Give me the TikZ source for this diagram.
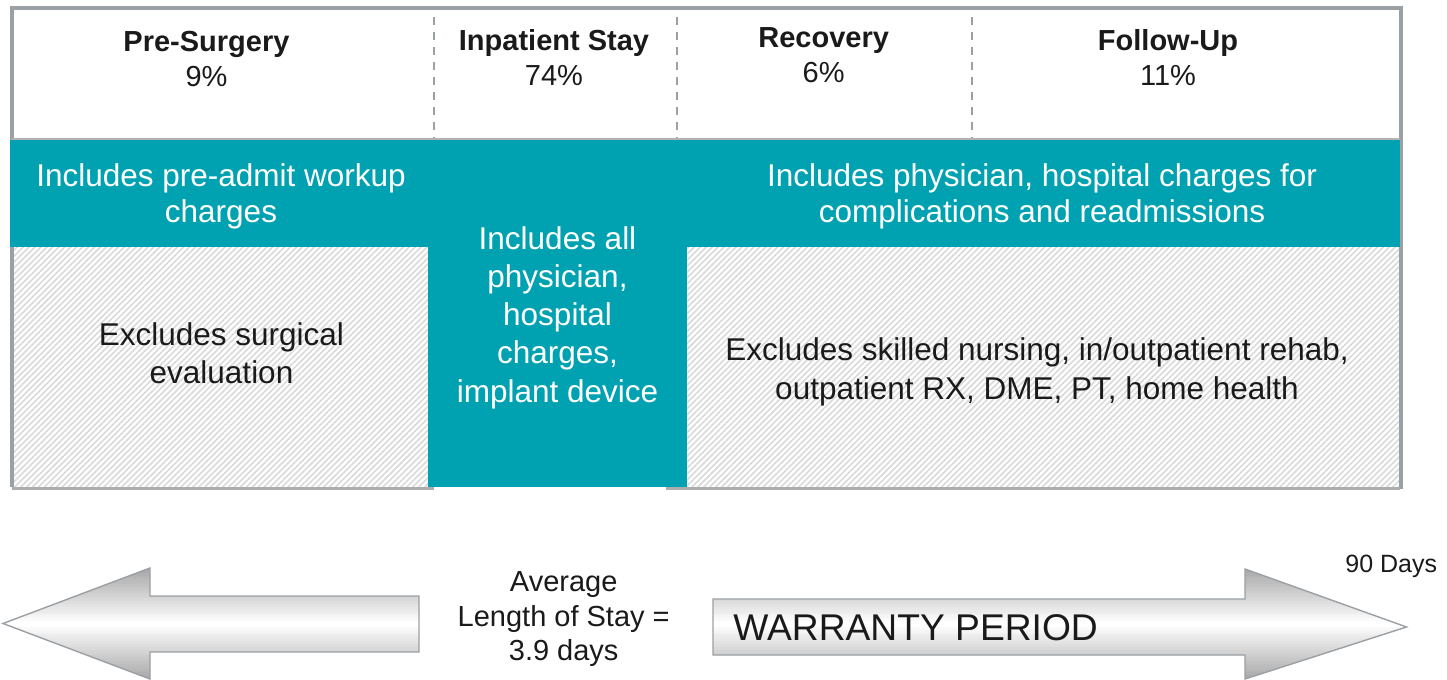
\documentclass[tikz,border=0pt]{standalone}
\usepackage{fontspec}
\setmainfont{Liberation Sans}
\usetikzlibrary{patterns.meta}
\definecolor{tealband}{HTML}{00A2B1}
\definecolor{framegray}{HTML}{9BA0A5}
\definecolor{hatchgray}{HTML}{D9D9D9}
\definecolor{inkgray}{HTML}{1A1A1A}
% big timeline arrow, shaded white in the middle, gray at the edges
\newcommand{\shadedarrow}[1]{%
    \begin{scope}
        \clip #1;
        \foreach \i in {0,...,39} {
            \pgfmathtruncatemacro{\dk}{36*abs(1-2*(\i+0.5)/40)}
            \fill[black!\dk] (0,567+2.85*\i) rectangle (1447,567+2.85*\i+3.3);
        }
    \end{scope}
    \draw[framegray, line width=0.7pt] #1;}
\begin{document}
\begin{tikzpicture}[x=0.5pt, y=-0.5pt,
        head/.style={text=inkgray, align=center, font=\fontsize{14.5}{17.5}\selectfont},
        incl/.style={text=white, align=center, font=\fontsize{15.75}{18}\selectfont},
        excl/.style={text=inkgray, align=center, font=\fontsize{15.75}{19.15}\selectfont},
        hatch/.style={pattern={Lines[angle=45, distance=2.1pt, line width=0.8pt]}, pattern color=hatchgray}]
        \useasboundingbox (0,0) rectangle (1447,680);

        % excluded parts
        \fill[hatch] (12,247) rectangle (428,487);
        \fill[hatch] (687,247) rectangle (1400,487);

        % frame
        \draw[framegray, line width=2pt] (12,487) -- (12,8) -- (1401,8) -- (1401,489);
        \draw[black!32, line width=1.5pt] (12,488.5) -- (434,488.5);
        \draw[black!32, line width=1.5pt] (666,488.5) -- (1400,488.5);

        % included parts
        \fill[tealband] (10,140) rectangle (1400,247);
        \fill[tealband] (428,140) rectangle (687,487);
        \draw[black!30, line width=1pt] (12,139) -- (1400,139);
        \foreach \x in {434,677,972}
            \draw[framegray, line width=0.65pt, dash pattern=on 4pt off 3.5pt] (\x,17) -- (\x,138);

        % phases
        \node[name=pre, head] at (206.5,59.2) {\textbf{Pre-Surgery}\\9\%};
        \node[name=inpatient, head] at (554,57.3) {\textbf{Inpatient Stay}\\74\%};
        \node[name=recovery, head] at (823.7,55) {\textbf{Recovery}\\6\%};
        \node[name=followup, head] at (1168,58) {\textbf{Follow-Up}\\11\%};

        \node[name=preincl, incl] at (221,196.7) {Includes pre-admit workup\\charges};
        \node[name=postincl, incl] at (1042,196.7) {Includes physician, hospital charges for\\complications and readmissions};
        \node[name=stayincl, incl, font=\fontsize{15.75}{19.1}\selectfont] at (557.5,317.5) {Includes all\\physician,\\hospital\\charges,\\implant device};
        \node[name=preexcl, excl] at (221.5,352.9) {Excludes surgical\\evaluation};
        \node[name=postexcl, excl] at (1037,371.9) {Excludes skilled nursing, in/outpatient rehab,\\outpatient RX, DME, PT, home health};

        % timeline
        \shadedarrow{(419,596) -- (150,596) -- (150,568) -- (3,623.5) -- (150,679) -- (150,652) -- (419,652) -- cycle}
        \shadedarrow{(713,599) -- (1245,599) -- (1245,569) -- (1406.5,627) -- (1245,679) -- (1245,655) -- (713,655) -- cycle}
        \node[name=los, text=inkgray, align=center, font=\fontsize{14.5}{17.1}\selectfont] at (563.7,619.2) {Average\\Length of Stay =\\3.9 days};
        \node[name=warranty, anchor=west, inner sep=0pt, text=inkgray, font=\fontsize{18.6}{22}\selectfont] at (733,627.8) {WARRANTY PERIOD};
        \node[name=days, anchor=base west, inner sep=0pt, text=inkgray, font=\fontsize{12.5}{15}\selectfont] at (1345,572.3) {90 Days};
    \end{tikzpicture}
\end{document}
